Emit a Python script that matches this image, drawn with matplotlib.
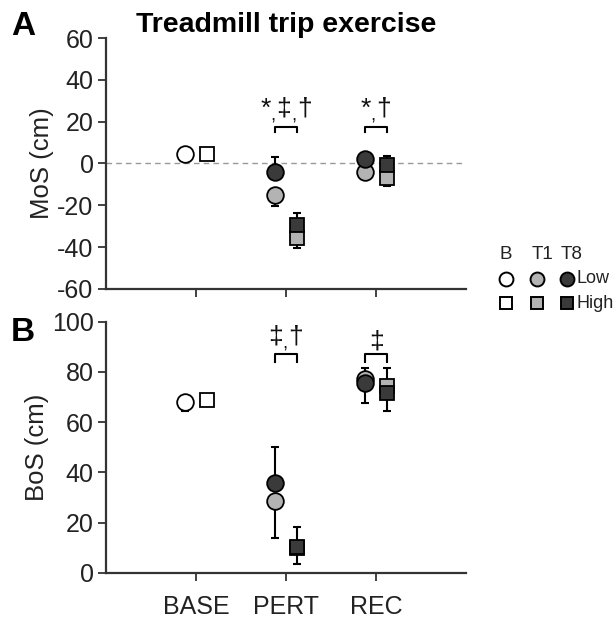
import numpy as np
import matplotlib
matplotlib.use("Agg")
import matplotlib.pyplot as plt

plt.rcParams['font.family'] = ['Liberation Sans', 'DejaVu Sans']
plt.rcParams['axes.unicode_minus'] = False
plt.rcParams['mathtext.fontset'] = 'custom'
plt.rcParams['mathtext.rm'] = 'Liberation Sans'
plt.rcParams['mathtext.it'] = 'Liberation Sans'

# ----->> categories and groups
phases = ['BASE', 'PERT', 'REC']
legend_cols = ['B', 'T1', 'T8']
legend_rows = ['Low', 'High']

# Panel A: MoS (cm), baseline values
mos_base_low = 4.6
mos_base_high = 4.4
# PERT, REC values for T1 / T8 and one-sided errors
mos_low_t1 = [-15.0, -3.9]
mos_low_t1_err = [5.2, 1.0]      # drawn downward
mos_low_t8 = [-3.9, 2.2]
mos_low_t8_err = [7.0, 1.0]      # drawn upward
mos_high_t1 = [-35.6, -7.1]
mos_high_t1_err = [4.9, 3.6]
mos_high_t8 = [-29.4, -0.7]
mos_high_t8_err = [5.8, 4.3]

# Panel B: BoS (cm)
bos_base_low = 68.0
bos_base_low_err = 3.5
bos_base_high = 68.8
bos_low_t1 = [28.6, 77.0]
bos_low_t1_err = [14.9, 9.4]
bos_low_t8 = [35.6, 75.4]
bos_low_t8_err = [14.6, 6.3]
bos_high_t1 = [10.0, 74.3]
bos_high_t1_err = [6.7, 9.7]
bos_high_t8 = [10.2, 71.6]
bos_high_t8_err = [8.0, 9.8]

# significance symbols above brackets (PERT, REC)
mos_sig = [['*', '\u2021', '\u2020'], ['*', '\u2020']]
bos_sig = [['\u2021', '\u2020'], ['\u2021']]

# Colours / marker styles
col_b = 'white'
col_t1 = '#b3b3b3'
col_t8 = '#3a3a3a'
axis_col = '#333333'
txt_col = '#222222'
ms_circ = 12
ms_sq = 10.5
off = 0.125
fs = 18

fig = plt.figure(figsize=(6.16, 6.18), dpi=100)
axA = fig.add_axes([0.1721, 0.5324, 0.5844, 0.4061])
axB = fig.add_axes([0.1721, 0.0733, 0.5844, 0.4061])


def sig_label(ax, xi, y, symbols):
    # one mathtext string: symbols joined by small lowered commas
    parts = [r'\mathrm{%s}' % s for s in symbols]
    s = '$' + r'_{,}'.join(parts) + '$'
    ax.text(xi, y, s, ha='center', va='bottom', fontsize=19, color='#111111')


def draw_panel(ax, base_low, base_low_err, base_high, low_t1, low_t1_err, low_t8, low_t8_err,
               high_t1, high_t1_err, high_t8, high_t8_err, sig, br_y, br_h, txt_y):
    x = np.arange(1, len(phases) + 1)
    xp = x[1:]  # PERT, REC
    ekw = dict(fmt='none', ecolor='black', elinewidth=1.5, capsize=3, capthick=1.5, zorder=2)
    mkw = dict(linestyle='none', markeredgecolor='black', markeredgewidth=1.3, zorder=3)

    # baseline
    if base_low_err > 0:
        ax.errorbar([x[0] - off], [base_low], yerr=[[base_low_err], [0]], **ekw)
    ax.plot([x[0] - off], [base_low], marker='o', markersize=ms_circ, markerfacecolor=col_b, **mkw)
    ax.plot([x[0] + off], [base_high], marker='s', markersize=ms_sq, markerfacecolor=col_b, **mkw)

    # error bars: T1 downward, T8 upward
    ax.errorbar(xp - off, low_t1, yerr=[low_t1_err, np.zeros(2)], **ekw)
    ax.errorbar(xp - off, low_t8, yerr=[np.zeros(2), low_t8_err], **ekw)
    ax.errorbar(xp + off, high_t1, yerr=[high_t1_err, np.zeros(2)], **ekw)
    ax.errorbar(xp + off, high_t8, yerr=[np.zeros(2), high_t8_err], **ekw)

    # markers, T8 on top of T1
    ax.plot(xp - off, low_t1, marker='o', markersize=ms_circ, markerfacecolor=col_t1, **mkw)
    ax.plot(xp - off, low_t8, marker='o', markersize=ms_circ, markerfacecolor=col_t8, **mkw)
    ax.plot(xp + off, high_t1, marker='s', markersize=ms_sq, markerfacecolor=col_t1, **mkw)
    ax.plot(xp + off, high_t8, marker='s', markersize=ms_sq, markerfacecolor=col_t8, **mkw)

    # brackets with significance symbols
    for xi, s in zip(xp, sig):
        ax.plot([xi - off, xi - off, xi + off, xi + off], [br_y - br_h, br_y, br_y, br_y - br_h],
                color='black', linewidth=1.5, zorder=3)
        sig_label(ax, xi, txt_y, s)

    ax.set_xlim(0, 4)
    ax.set_xticks(x)
    for sp in ['top', 'right']:
        ax.spines[sp].set_visible(False)
    for sp in ['left', 'bottom']:
        ax.spines[sp].set_color(axis_col)
        ax.spines[sp].set_linewidth(1.6)
    ax.tick_params(direction='out', length=6, width=1.3, colors=axis_col, labelsize=fs,
                   labelcolor=txt_col, pad=3)


# Panel A
axA.axhline(0, color='#999999', linestyle='--', linewidth=1, dashes=(4, 3), zorder=1)
draw_panel(axA, mos_base_low, 0, mos_base_high, mos_low_t1, mos_low_t1_err, mos_low_t8, mos_low_t8_err,
           mos_high_t1, mos_high_t1_err, mos_high_t8, mos_high_t8_err, mos_sig, 17.6, 2.5, 18.5)
axA.set_ylim(-60, 60)
axA.set_yticks(np.arange(-60, 61, 20))
axA.set_xticklabels([])
axA.set_ylabel('MoS (cm)', fontsize=fs + 0.5, color=txt_col, labelpad=2)
axA.set_title('Treadmill trip exercise', fontsize=20.5, fontweight='bold', pad=4)

# Panel B
draw_panel(axB, bos_base_low, bos_base_low_err, bos_base_high, bos_low_t1, bos_low_t1_err, bos_low_t8,
           bos_low_t8_err, bos_high_t1, bos_high_t1_err, bos_high_t8, bos_high_t8_err, bos_sig,
           87.1, 3.0, 87.5)
axB.set_ylim(0, 100)
axB.set_yticks(np.arange(0, 101, 20))
axB.set_xticklabels(phases)
axB.tick_params(axis='x', pad=10)
axB.set_ylabel('BoS (cm)', fontsize=fs + 0.5, color=txt_col, labelpad=2)

# panel letters
fig.text(0.018, 0.943, 'A', fontsize=24, fontweight='bold')
fig.text(0.018, 0.448, 'B', fontsize=24, fontweight='bold')

# Legend (manual grid: columns B/T1/T8, rows Low/High)
axL = fig.add_axes([490 / 616, 1 - 320 / 618, 126 / 616, 72 / 618])
axL.set_xlim(0, 126)
axL.set_ylim(72, 0)
axL.axis('off')
col_x = [16, 47, 77]
row_y = [31, 55]
fills = [col_b, col_t1, col_t8]
for ci, name in enumerate(legend_cols):
    axL.text(col_x[ci] + (0 if ci == 0 else 5), 7, name, ha='center', va='center', fontsize=13.5,
             color=txt_col)
    axL.plot(col_x[ci], row_y[0], marker='o', markersize=10, markerfacecolor=fills[ci],
             markeredgecolor='black', markeredgewidth=1.4, clip_on=False)
    axL.plot(col_x[ci], row_y[1], marker='s', markersize=8.5, markerfacecolor=fills[ci],
             markeredgecolor='black', markeredgewidth=1.4, clip_on=False)
for ri, name in enumerate(legend_rows):
    axL.text(87, row_y[ri], name, ha='left', va='center', fontsize=13, color=txt_col)

fig.savefig('out.png', dpi=100)
